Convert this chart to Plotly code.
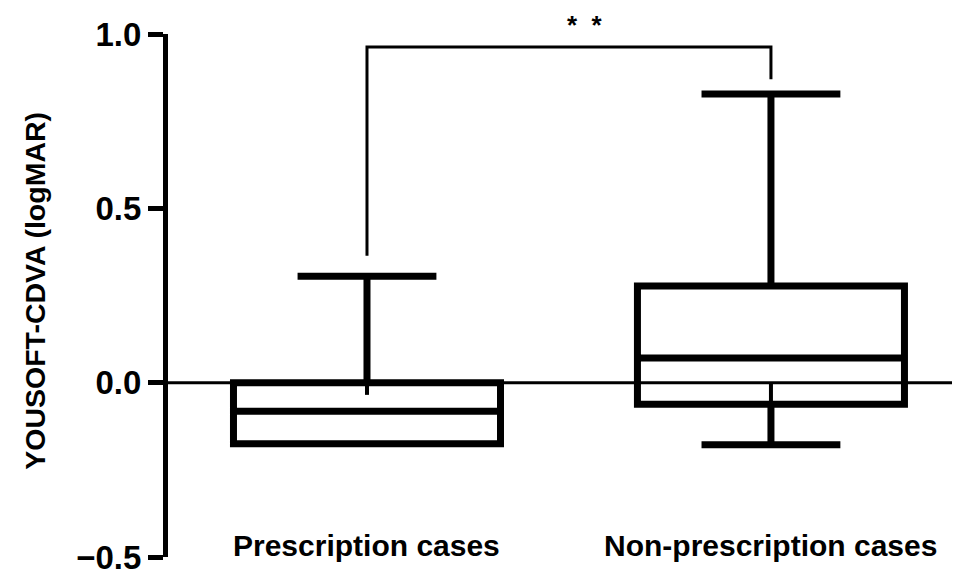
import plotly.graph_objects as go

# ---- data ----
categories = ["Prescription cases", "Non-prescription cases"]
cat_pos = [0, 1]
lower_fence = [-0.175, -0.178]
q1_vals = [-0.175, -0.062]
median_vals = [-0.082, 0.071]
q3_vals = [0.0, 0.277]
upper_fence = [0.305, 0.828]
# small whisker stubs visible inside the boxes
stub_top = [0.0, 0.0]
stub_bottom = [-0.035, -0.055]
# significance bracket
bracket_x = [0, 0, 1, 1]
bracket_y = [0.364, 0.963, 0.963, 0.870]
sig_text = "*\u00a0\u00a0*"
y_title = "YOUSOFT-CDVA (logMAR)"
y_ticks = [-0.5, 0.0, 0.5, 1.0]

FONT = "Liberation Sans"

fig = go.Figure()

for i in range(len(categories)):
    fig.add_trace(go.Box(
        x=[cat_pos[i]],
        q1=[q1_vals[i]], median=[median_vals[i]], q3=[q3_vals[i]],
        lowerfence=[lower_fence[i]], upperfence=[upper_fence[i]],
        width=0.661, whiskerwidth=0.52,
        line=dict(color="black", width=7),
        fillcolor="rgba(0,0,0,0)",
        boxpoints=False, showlegend=False, hoverinfo="skip",
    ))
    fig.add_trace(go.Scatter(
        x=[cat_pos[i], cat_pos[i]], y=[stub_top[i], stub_bottom[i]],
        mode="lines", line=dict(color="black", width=4),
        showlegend=False, hoverinfo="skip",
    ))

fig.add_trace(go.Scatter(
    x=bracket_x, y=bracket_y, mode="lines",
    line=dict(color="black", width=3),
    showlegend=False, hoverinfo="skip", cliponaxis=False,
))

fig.add_shape(type="line", xref="paper", yref="y", x0=0, x1=1, y0=0, y1=0,
              line=dict(color="black", width=3), layer="below")

fig.add_annotation(x=0.54, y=1.018, xref="x", yref="paper", text=sig_text,
                   showarrow=False,
                   font=dict(family=FONT, size=26, color="black", weight="bold"),
                   xanchor="center", yanchor="middle")

# y-axis title placed precisely
fig.add_annotation(x=-0.168, y=0.509, xref="paper", yref="paper", text=y_title,
                   textangle=-90, showarrow=False,
                   font=dict(family=FONT, size=28.5, color="black", weight="bold"),
                   xanchor="center", yanchor="middle")

for i, c in enumerate(categories):
    fig.add_annotation(x=cat_pos[i], y=-0.468, xref="x", yref="y",
                       text=c, showarrow=False,
                       font=dict(family=FONT, size=30, color="black", weight="bold"),
                       xanchor="center", yanchor="middle")

fig.update_layout(
    width=960, height=576,
    margin=dict(l=160, r=8, t=20, b=26),
    plot_bgcolor="white", paper_bgcolor="white",
    font=dict(family=FONT, color="black"),
    xaxis=dict(range=[-0.4926, 1.468], showline=False, showgrid=False,
               zeroline=False, showticklabels=False, ticks=""),
    yaxis=dict(range=[-0.5, 1.0], tickvals=y_ticks, tickformat=".1f",
               showline=True, linecolor="black", linewidth=5,
               ticks="outside", ticklen=15, tickwidth=5, tickcolor="black",
               showgrid=False, zeroline=False,
               tickfont=dict(family=FONT, size=33, color="black", weight="bold")),
)

fig.write_html("out.html")
